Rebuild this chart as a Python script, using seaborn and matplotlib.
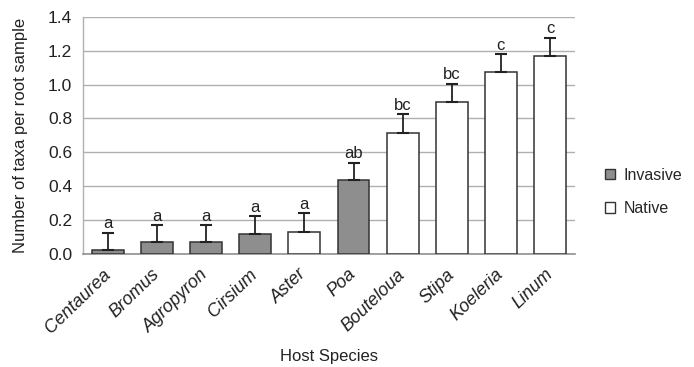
import matplotlib
matplotlib.use("Agg")
import matplotlib.pyplot as plt
import seaborn as sns
import pandas as pd
import numpy as np
from matplotlib.patches import Patch

species = ["Centaurea", "Bromus", "Agropyron", "Cirsium", "Aster", "Poa",
           "Bouteloua", "Stipa", "Koeleria", "Linum"]
means = [0.025, 0.068, 0.068, 0.12, 0.132, 0.435, 0.715, 0.898, 1.073, 1.170]
errors = [0.100, 0.102, 0.102, 0.102, 0.108, 0.105, 0.110, 0.108, 0.105, 0.108]
status = ["Invasive", "Invasive", "Invasive", "Invasive", "Native", "Invasive",
          "Native", "Native", "Native", "Native"]
letters = ["a", "a", "a", "a", "a", "ab", "bc", "bc", "c", "c"]

df = pd.DataFrame({"Species": species, "Mean": means, "Status": status})

sns.set_style("white")
plt.rcParams["font.family"] = ["Liberation Sans", "DejaVu Sans"]

fig = plt.figure(figsize=(6.94, 3.67), dpi=100)
ax = fig.add_axes([0.12, 0.308, 0.708, 0.646])

palette = {"Invasive": "#8e8e8e", "Native": "#ffffff"}
sns.barplot(data=df, x="Species", y="Mean", hue="Status", palette=palette,
            dodge=False, width=0.65, edgecolor="#333333", linewidth=1.1,
            legend=False, ax=ax, zorder=3)

x = np.arange(len(species))
ax.errorbar(x, means, yerr=[np.zeros(len(errors)), errors], fmt="none",
            ecolor="#222222", elinewidth=1.3, capsize=4, capthick=1.5, zorder=4)
for xi, m, e, l in zip(x, means, errors, letters):
    ax.text(xi, m + e + 0.008, l, ha="center", va="bottom", fontsize=12, color="#222222")

ax.set_ylim(0, 1.4)
ax.set_xlim(-0.5, len(species) - 0.5)
yt = np.arange(0, 1.41, 0.2)
ax.set_yticks(yt)
ax.set_yticklabels([f"{v:.1f}" for v in yt], fontsize=12.5, color="#222222")
ax.yaxis.grid(True, color="#b0b0b0", linewidth=1.0, zorder=0)
ax.set_axisbelow(True)

for s in ["top", "right"]:
    ax.spines[s].set_visible(False)
ax.spines["left"].set_color("#b0b0b0")
ax.spines["bottom"].set_color("#909090")
ax.spines["left"].set_linewidth(1.0)
ax.spines["bottom"].set_linewidth(1.2)

ax.set_xticks(x)
ax.set_xticklabels(species, rotation=44, ha="right", va="center", rotation_mode="anchor",
                   fontsize=13, fontstyle="italic", color="#222222")
ax.tick_params(axis="x", length=0, pad=13)
ax.tick_params(axis="y", length=0, pad=8)
ax.set_xticks(np.arange(-0.5, len(species), 1.0), minor=True)
ax.tick_params(axis="x", which="minor", length=5, color="#909090", width=1.0)

ax.set_xlabel("Host Species", fontsize=12, color="#222222")
ax.set_ylabel("Number of taxa per root sample", fontsize=12, color="#222222", labelpad=14)
ax.xaxis.set_label_coords(0.5, -0.40)

handles = [Patch(facecolor=palette["Invasive"], edgecolor="#333333", linewidth=1.0),
           Patch(facecolor=palette["Native"], edgecolor="#333333", linewidth=1.0)]
fig.legend(handles, ["Invasive", "Native"], loc="center left",
           bbox_to_anchor=(0.851, 0.477), frameon=False, fontsize=11.5,
           handlelength=0.65, handleheight=0.65, handletextpad=0.5, labelspacing=1.15)

fig.savefig("out.png", dpi=100)
